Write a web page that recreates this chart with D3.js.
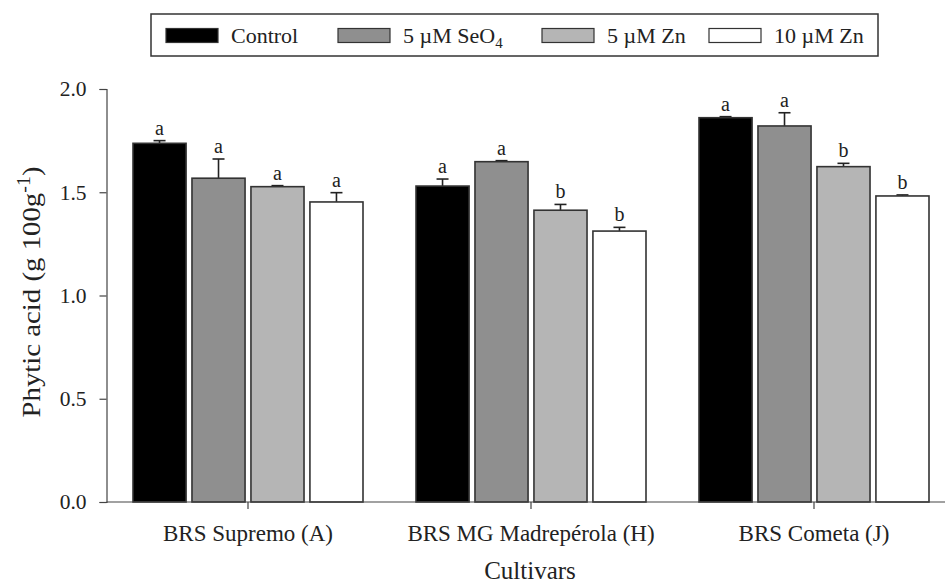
<!DOCTYPE html>
<html>
<head>
<meta charset="utf-8">
<script src="https://cdn.jsdelivr.net/npm/d3@7"></script>
<style>
  body { margin: 0; background: #fff; }
  svg text { font-family: "Liberation Serif", "Times New Roman", serif; fill: #222; }
</style>
</head>
<body>
<div id="chart"></div>
<script>
// data
let cultivars = ['BRS Supremo (A)', 'BRS MG Madrepérola (H)', 'BRS Cometa (J)'];
let treatments = ['Control', '5 µM SeO4', '5 µM Zn', '10 µM Zn'];
let means = [
  [1.737, 1.568, 1.527, 1.453],
  [1.530, 1.648, 1.413, 1.312],
  [1.861, 1.821, 1.624, 1.482]
];
let errs = [
  [0.013, 0.093, 0.005, 0.045],
  [0.034, 0.005, 0.028, 0.018],
  [0.005, 0.064, 0.016, 0.005]
];
let letters = [
  ['a', 'a', 'a', 'a'],
  ['a', 'a', 'b', 'b'],
  ['a', 'a', 'b', 'b']
];
let yTicks = [0, 0.5, 1.0, 1.5, 2.0];
let fills = ['#000000', '#8f8f8f', '#b5b5b5', '#ffffff'];

let W = 945, H = 587;
let svg = d3.select('#chart').append('svg')
    .attr('width', W)
    .attr('height', H);

let x0 = 106.5, x1 = 955.5;   // axis runs past the right edge
let y = d3.scaleLinear().domain([0, 2]).range([502, 89]);
let x = d3.scaleBand().domain(cultivars).range([x0, x1]);
let xi = d3.scaleBand().domain(treatments)
    .range([26.5, x.bandwidth() - 26.5])
    .paddingInner(0.1);

// flatten to one row per bar
let rows = [];
cultivars.forEach(function(c, i) {
  treatments.forEach(function(t, j) {
    rows.push({c: c, t: t, j: j, v: means[i][j], e: errs[i][j], l: letters[i][j]});
  });
});

let bars = svg.selectAll('.bar').data(rows).enter()
  .append('g')
    .attr('class', 'bar')
    .attr('transform', function(d) { return 'translate(' + (x(d.c) + xi(d.t)) + ',0)'; });

// error bars (upper only)
bars.append('line')
    .attr('x1', xi.bandwidth() / 2).attr('x2', xi.bandwidth() / 2)
    .attr('y1', function(d) { return y(d.v); })
    .attr('y2', function(d) { return y(d.v + d.e); })
    .attr('stroke', '#222').attr('stroke-width', 1.6);
bars.append('line')
    .attr('x1', xi.bandwidth() / 2 - 6).attr('x2', xi.bandwidth() / 2 + 6)
    .attr('y1', function(d) { return y(d.v + d.e); })
    .attr('y2', function(d) { return y(d.v + d.e); })
    .attr('stroke', '#222').attr('stroke-width', 1.6);

bars.append('rect')
    .attr('x', 0)
    .attr('y', function(d) { return y(d.v); })
    .attr('width', xi.bandwidth())
    .attr('height', function(d) { return y(0) - y(d.v); })
    .attr('fill', function(d) { return fills[d.j]; })
    .attr('stroke', '#333')
    .attr('stroke-width', 1.6);

bars.append('text')
    .attr('x', xi.bandwidth() / 2)
    .attr('y', function(d) { return y(d.v + d.e) - 6; })
    .attr('text-anchor', 'middle')
    .attr('font-size', 20)
    .text(function(d) { return d.l; });

// y axis
let yAxis = svg.append('g')
    .attr('transform', 'translate(' + x0 + ',0)')
    .call(d3.axisLeft(y).tickValues(yTicks).tickFormat(d3.format('.1f')).tickSizeOuter(0).tickSize(7).tickPadding(13));
yAxis.selectAll('text').attr('font-size', 21.5).attr('fill', '#222');
yAxis.selectAll('line, path').attr('stroke', '#444').attr('stroke-width', 1.2);

// x axis
let xAxis = svg.append('g')
    .attr('transform', 'translate(0,' + y(0) + ')')
    .call(d3.axisBottom(x).tickSizeOuter(0).tickSize(7).tickPadding(16));
xAxis.selectAll('text').attr('font-size', 23).attr('fill', '#222');
xAxis.selectAll('line, path').attr('stroke', '#444').attr('stroke-width', 1.2);
xAxis.select('.domain').attr('d', 'M' + x0 + ',0H' + x1);

// axis titles
svg.append('text')
    .attr('x', 530).attr('y', 579)
    .attr('text-anchor', 'middle')
    .attr('font-size', 25)
    .text('Cultivars');

let yl = svg.append('text')
    .attr('transform', 'translate(40,292) rotate(-90)')
    .attr('text-anchor', 'middle')
    .attr('font-size', 26)
    .attr('textLength', 251)
    .attr('lengthAdjust', 'spacingAndGlyphs');
yl.append('tspan').text('Phytic acid (g 100g');
yl.append('tspan').attr('dy', -10).attr('font-size', 18).text('-1');
yl.append('tspan').attr('dy', 10).text(')');

// legend
let legX = [166, 338, 542, 709];
svg.append('rect')
    .attr('x', 151).attr('y', 14)
    .attr('width', 727).attr('height', 42)
    .attr('fill', 'none')
    .attr('stroke', '#333').attr('stroke-width', 1.5);

let leg = svg.selectAll('.leg').data(treatments).enter()
  .append('g')
    .attr('class', 'leg')
    .attr('transform', function(d, i) { return 'translate(' + legX[i] + ',28.5)'; });
leg.append('rect')
    .attr('width', 52).attr('height', 14)
    .attr('fill', function(d, i) { return fills[i]; })
    .attr('stroke', '#333').attr('stroke-width', 1.2);
let lt = leg.append('text')
    .attr('x', 65).attr('y', 14.5)
    .attr('font-size', 22);
lt.each(function(d) {
  let t = d3.select(this);
  if (d === '5 µM SeO4') {
    t.append('tspan').text('5 µM SeO');
    t.append('tspan').attr('dy', 5).attr('font-size', 15).text('4');
  } else {
    t.text(d);
  }
});
</script>
</body>
</html>
